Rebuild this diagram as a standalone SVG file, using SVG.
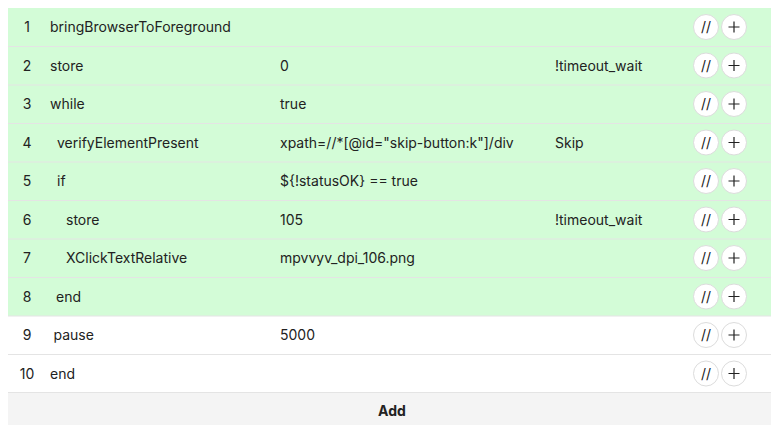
<svg xmlns="http://www.w3.org/2000/svg" width="778" height="425" viewBox="0 0 778 425">
<style>
text{font-family:Inter,"Liberation Sans",Arial,sans-serif;font-size:14px;fill:#222;}
.num{text-anchor:middle;}
.ok{fill:#d3fcd7;}
.plain{fill:#ffffff;}
.sep{stroke:#e4e4e4;stroke-width:1;}
.btn{fill:#ffffff;stroke:#dcdcdc;stroke-width:1;}
.bt{text-anchor:middle;font-size:14px;fill:#222;}
.plus{stroke:#222;stroke-width:1.2;}
.add{font-weight:bold;text-anchor:middle;}
</style>
<defs>
<g id="btns">
<circle class="btn" cx="0" cy="0" r="12.5"/>
<text class="bt" x="0" y="5">//</text>
<circle class="btn" cx="28" cy="0" r="12.5"/>
<path class="plus" d="M22.5 0H33.5M28 -5.5V5.5"/>
</g>
</defs>
<rect x="0" y="0" width="778" height="425" fill="#ffffff"/>
<g id="rows-bg">
<rect class="ok" x="8" y="8" width="763" height="308"/>
<rect class="plain" x="8" y="316" width="763" height="77"/>
<rect x="8" y="392.5" width="763" height="33" fill="#f4f4f4"/>
</g>
<g id="separators">
<line class="sep" x1="8" y1="46.5" x2="771" y2="46.5"/>
<line class="sep" x1="8" y1="85" x2="771" y2="85"/>
<line class="sep" x1="8" y1="123.5" x2="771" y2="123.5"/>
<line class="sep" x1="8" y1="162" x2="771" y2="162"/>
<line class="sep" x1="8" y1="200.5" x2="771" y2="200.5"/>
<line class="sep" x1="8" y1="239" x2="771" y2="239"/>
<line class="sep" x1="8" y1="277.5" x2="771" y2="277.5"/>
<line class="sep" x1="8" y1="316" x2="771" y2="316"/>
<line class="sep" x1="8" y1="354.5" x2="771" y2="354.5"/>
<line class="sep" x1="8" y1="392.5" x2="771" y2="392.5"/>
</g>
<g id="row1"><text class="num" x="27" y="32">1</text><text x="50" y="32">bringBrowserToForeground</text><use href="#btns" x="706" y="27"/></g>
<g id="row2"><text class="num" x="27" y="70.5">2</text><text x="50" y="70.5">store</text><text x="280" y="70.5">0</text><text x="555" y="70.5">!timeout_wait</text><use href="#btns" x="706" y="65.5"/></g>
<g id="row3"><text class="num" x="27" y="109">3</text><text x="50" y="109">while</text><text x="280" y="109">true</text><use href="#btns" x="706" y="104"/></g>
<g id="row4"><text class="num" x="27" y="147.5">4</text><text x="57" y="147.5">verifyElementPresent</text><text x="280" y="147.5">xpath=//*[@id="skip-button:k"]/div</text><text x="555" y="147.5">Skip</text><use href="#btns" x="706" y="142.5"/></g>
<g id="row5"><text class="num" x="27" y="186">5</text><text x="57" y="186">if</text><text x="280" y="186">${!statusOK} == true</text><use href="#btns" x="706" y="181"/></g>
<g id="row6"><text class="num" x="27" y="224.5">6</text><text x="66" y="224.5">store</text><text x="280" y="224.5">105</text><text x="555" y="224.5">!timeout_wait</text><use href="#btns" x="706" y="219.5"/></g>
<g id="row7"><text class="num" x="27" y="263">7</text><text x="66" y="263">XClickTextRelative</text><text x="280" y="263">mpvvyv_dpi_106.png</text><use href="#btns" x="706" y="258"/></g>
<g id="row8"><text class="num" x="27" y="301.5">8</text><text x="56" y="301.5">end</text><use href="#btns" x="706" y="296.5"/></g>
<g id="row9"><text class="num" x="27" y="340">9</text><text x="53.5" y="340">pause</text><text x="280" y="340">5000</text><use href="#btns" x="706" y="335"/></g>
<g id="row10"><text class="num" x="27" y="378.5">10</text><text x="50" y="378.5">end</text><use href="#btns" x="706" y="373.5"/></g>
<g id="add"><text class="add" x="392" y="416">Add</text></g>
</svg>
